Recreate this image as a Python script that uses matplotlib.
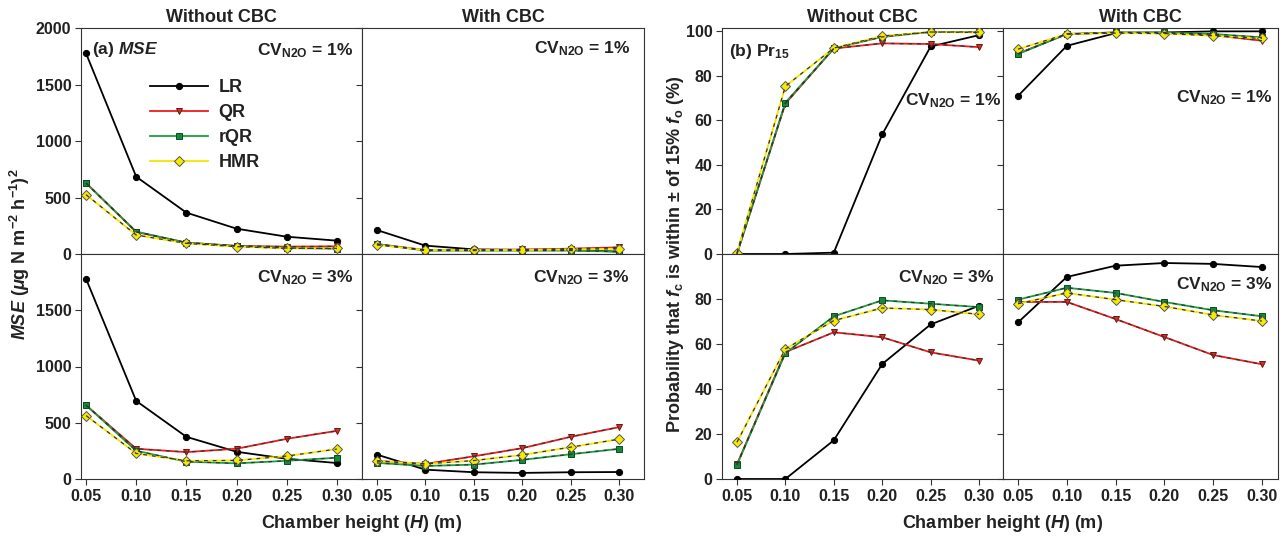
import matplotlib
matplotlib.use("Agg")
import matplotlib.pyplot as plt
import numpy as np

plt.rcParams['font.family'] = ['Liberation Sans', 'DejaVu Sans']
plt.rcParams['font.weight'] = 'bold'
plt.rcParams['mathtext.fontset'] = 'custom'
plt.rcParams['mathtext.rm'] = 'Liberation Sans:bold'
plt.rcParams['mathtext.bf'] = 'Liberation Sans:bold'
plt.rcParams['mathtext.it'] = 'Liberation Sans:bold:italic'

heights = [0.05, 0.10, 0.15, 0.20, 0.25, 0.30]
methods = ['LR', 'QR', 'rQR', 'HMR']

# (a) MSE
mse_wo_1 = {'LR': [1776, 684, 366, 224, 153, 118],
            'QR': [628, 195, 100, 72, 65, 68],
            'rQR': [628, 198, 100, 71, 53, 47],
            'HMR': [525, 168, 94, 65, 50, 50]}
mse_w_1 = {'LR': [212, 74, 41, 35, 35, 21],
           'QR': [88, 35, 37, 40, 47, 59],
           'rQR': [88, 30, 30, 30, 30, 21],
           'HMR': [80, 35, 35, 35, 41, 47]}
mse_wo_3 = {'LR': [1780, 694, 375, 242, 180, 142],
            'QR': [656, 269, 239, 269, 357, 428],
            'rQR': [656, 251, 154, 139, 162, 189],
            'HMR': [564, 227, 162, 165, 204, 266]}
mse_w_3 = {'LR': [217, 83, 60, 54, 60, 62],
           'QR': [161, 134, 202, 274, 375, 461],
           'rQR': [143, 116, 128, 170, 220, 268],
           'HMR': [161, 134, 164, 214, 283, 354]}

# (b) Pr15
pr_wo_1 = {'LR': [0, 0, 0.6, 53.7, 93.2, 98.3],
           'QR': [0, 67.5, 92.3, 94.6, 94.3, 92.9],
           'rQR': [0, 68, 92.3, 97.5, 99.7, 99.7],
           'HMR': [0.5, 75.3, 92.5, 97.9, 99.7, 99.5]}
pr_w_1 = {'LR': [71, 93.5, 99.2, 99.5, 100, 100],
          'QR': [90, 98.8, 99.5, 99.3, 98.3, 95.8],
          'rQR': [89.8, 98.8, 99.5, 99.5, 98.8, 97.3],
          'HMR': [92, 98.8, 99.2, 99.0, 98.0, 96.8]}
pr_wo_3 = {'LR': [0, 0, 17.2, 51.1, 68.7, 77.0],
           'QR': [6.5, 56.4, 65.2, 63.0, 56.3, 52.6],
           'rQR': [6.2, 55.9, 72.3, 79.4, 77.9, 76.4],
           'HMR': [16.3, 57.8, 70.4, 76.0, 75.3, 73.2]}
pr_w_3 = {'LR': [69.6, 89.8, 94.8, 96.0, 95.6, 94.2],
          'QR': [78.7, 78.7, 71.1, 63.1, 55.1, 51.0],
          'rQR': [79.7, 85.0, 82.7, 78.7, 75.0, 72.3],
          'HMR': [77.9, 82.7, 79.7, 76.7, 72.9, 70.2]}

styles = {
    'LR': dict(color='black', marker='o', mfc='black', mec='black', ms=4.5, overlay=False),
    'QR': dict(color='#ee1c1c', marker='v', mfc='#c0392b', mec='#7a1010', ms=5, overlay=True),
    'rQR': dict(color='#1aa040', marker='s', mfc='#138a3a', mec='#0b4d20', ms=5, overlay=True),
    'HMR': dict(color='#f5e400', marker='D', mfc='#f7ea00', mec='#555555', ms=5, overlay=True),
}

fig = plt.figure(figsize=(12.85, 5.37), dpi=100)
W, H = 1285.0, 537.0

def ax_at(x0, x1, y0, y1):
    return fig.add_axes([x0 / W, 1 - y1 / H, (x1 - x0) / W, (y1 - y0) / H])

def draw(ax, data):
    handles = []
    for m in methods:
        s = styles[m]
        ln, = ax.plot(heights, data[m], color=s['color'], lw=1.3, marker=s['marker'],
                      mfc=s['mfc'], mec=s['mec'], ms=s['ms'], mew=0.7, zorder=3,
                      label=m)
        if s['overlay']:
            ax.plot(heights, data[m], color='#333333', lw=0.9, ls=(0, (3, 4)), zorder=3.5)
        handles.append(ln)
    return handles

tick_fs = 11.5

def style_axis(ax, xlim, ylim, yticks, show_x, show_y, right_ticks=False):
    ax.set_xlim(*xlim)
    ax.set_ylim(*ylim)
    ax.set_xticks(heights)
    ax.set_xticklabels(['%.2f' % h for h in heights] if show_x else [])
    ax.set_yticks(yticks)
    if show_y:
        ax.set_yticklabels([str(int(t)) for t in yticks])
    else:
        ax.set_yticklabels([])
    ax.tick_params(axis='both', labelsize=tick_fs, direction='out', length=4, width=0.8,
                   color='#333333', pad=3)
    ax.tick_params(axis='y', right=right_ticks)
    for sp in ax.spines.values():
        sp.set_linewidth(0.8)
        sp.set_color('#333333')
    for lab in ax.get_xticklabels() + ax.get_yticklabels():
        lab.set_fontweight('bold')
        lab.set_color('#222222')

lx = [81, 362, 644]
rx = [722, 1003, 1278]
yt, ym, yb = 28, 254, 479

a1 = ax_at(lx[0], lx[1], yt, ym)
a2 = ax_at(lx[1], lx[2], yt, ym)
a3 = ax_at(lx[0], lx[1], ym, yb)
a4 = ax_at(lx[1], lx[2], ym, yb)
b1 = ax_at(rx[0], rx[1], yt, ym)
b2 = ax_at(rx[1], rx[2], yt, ym)
b3 = ax_at(rx[0], rx[1], ym, yb)
b4 = ax_at(rx[1], rx[2], ym, yb)

hs = draw(a1, mse_wo_1)
draw(a2, mse_w_1)
draw(a3, mse_wo_3)
draw(a4, mse_w_3)
draw(b1, pr_wo_1)
draw(b2, pr_w_1)
draw(b3, pr_wo_3)
draw(b4, pr_w_3)

xl_l = (0.045, 0.325)
xl_r = (0.0346, 0.3257)
style_axis(a1, xl_l, (0, 2000), [0, 500, 1000, 1500, 2000], False, True, right_ticks=True)
style_axis(a2, xl_r, (0, 2000), [0, 500, 1000, 1500, 2000], False, False)
style_axis(a3, xl_l, (0, 2000), [0, 500, 1000, 1500], True, True, right_ticks=True)
style_axis(a4, xl_r, (0, 2000), [0, 500, 1000, 1500], True, False)
style_axis(b1, (0.0346, 0.3247), (0, 101.5), [0, 20, 40, 60, 80, 100], False, True, right_ticks=True)
style_axis(b2, (0.0346, 0.3165), (0, 101.5), [0, 20, 40, 60, 80, 100], False, False)
style_axis(b3, (0.0346, 0.3247), (0, 100), [0, 20, 40, 60, 80], True, True, right_ticks=True)
style_axis(b4, (0.0346, 0.3165), (0, 100), [0, 20, 40, 60, 80], True, False)

title_fs = 13
for ax, t in [(a1, 'Without CBC'), (a2, 'With CBC'), (b1, 'Without CBC'), (b2, 'With CBC')]:
    ax.set_title(t, fontsize=title_fs, fontweight='bold', pad=4, color='#222222')

cv_fs = 12.5
def cv(ax, x, y, pct, ha='right'):
    ax.text(x, y, r'CV$_{\mathbf{N2O}}$ = %s%%' % pct, transform=ax.transAxes,
            fontsize=cv_fs, fontweight='bold', ha=ha, va='center', color='#222222')

cv(a1, 0.97, 0.90, 1)
cv(a2, 0.95, 0.91, 1)
cv(a3, 0.968, 0.897, 3)
cv(a4, 0.947, 0.897, 3)
cv(b1, 0.995, 0.68, 1)
cv(b2, 0.98, 0.69, 1)
cv(b3, 0.968, 0.893, 3)
cv(b4, 0.98, 0.862, 3)

a1.text(0.04, 0.905, r'(a) $\mathit{MSE}$', transform=a1.transAxes, fontsize=12.5,
        fontweight='bold', ha='left', va='center', color='#222222')
b1.text(0.025, 0.895, r'(b) Pr$_{\mathbf{15}}$', transform=b1.transAxes, fontsize=12.5,
        fontweight='bold', ha='left', va='center', color='#222222')

leg = a1.legend(handles=hs, loc='upper left', bbox_to_anchor=(0.2, 0.83), frameon=False,
                fontsize=13, handlelength=3.2, labelspacing=0.45, handletextpad=0.6,
                borderpad=0.2)
for t in leg.get_texts():
    t.set_fontweight('bold')
    t.set_color('#222222')

fig.text(20 / W, 1 - 254 / H, r'$\mathit{MSE}$ ($\mu$g N m$^{-2}$ h$^{-1}$)$^{2}$',
         rotation=90, fontsize=13, fontweight='bold', ha='center', va='center', color='#222222')
fig.text(676 / W, 1 - 254 / H,
         r'Probability that $\mathit{f}_{\mathbf{c}}$ is within ± of 15% $\mathit{f}_{\mathbf{o}}$ (%)',
         rotation=90, fontsize=13, fontweight='bold', ha='center', va='center', color='#222222')

fig.text(362 / W, 1 - 524 / H, r'Chamber height ($\mathit{H}$) (m)', fontsize=13,
         fontweight='bold', ha='center', va='center', color='#222222')
fig.text(1003 / W, 1 - 524 / H, r'Chamber height ($\mathit{H}$) (m)', fontsize=13,
         fontweight='bold', ha='center', va='center', color='#222222')

fig.savefig('out.png', dpi=100)
